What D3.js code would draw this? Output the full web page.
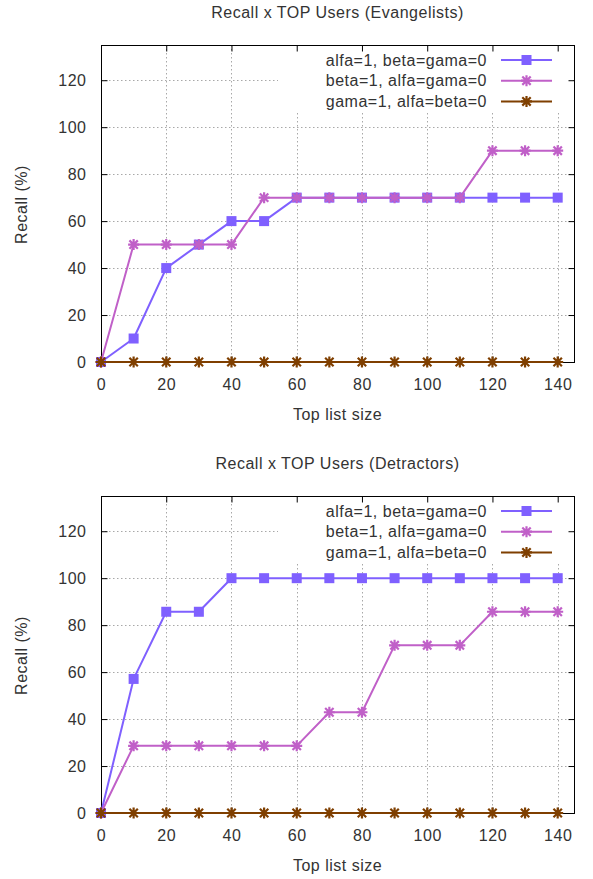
<!DOCTYPE html>
<html>
<head>
<meta charset="utf-8">
<script src="https://cdn.jsdelivr.net/npm/d3@7/dist/d3.min.js"></script>
<style>
  html, body { margin: 0; padding: 0; background: #fff; }
  svg { display: block; }
  text { font-family: "Liberation Sans", Arial, sans-serif; font-size: 16px; fill: #333; letter-spacing: 0.5px; }
</style>
</head>
<body>
<script>
// ---- data ----
const topListSizes = [0, 10, 20, 30, 40, 50, 60, 70, 80, 90, 100, 110, 120, 130, 140];
const seriesNames = ["alfa=1, beta=gama=0", "beta=1, alfa=gama=0", "gama=1, alfa=beta=0"];
const seriesColors = ["#7f60ff", "#c060c8", "#7f3f00"];
const seriesMarkers = ["square", "star", "star"];

const evangelistsAlfa = [0, 10, 40, 50, 60, 60, 70, 70, 70, 70, 70, 70, 70, 70, 70];
const evangelistsBeta = [0, 50, 50, 50, 50, 70, 70, 70, 70, 70, 70, 70, 90, 90, 90];
const evangelistsGama = [0, 0, 0, 0, 0, 0, 0, 0, 0, 0, 0, 0, 0, 0, 0];

const detractorsAlfa = [0, 57.1, 85.7, 85.7, 100, 100, 100, 100, 100, 100, 100, 100, 100, 100, 100];
const detractorsBeta = [0, 28.6, 28.6, 28.6, 28.6, 28.6, 28.6, 42.9, 42.9, 71.4, 71.4, 71.4, 85.7, 85.7, 85.7];
const detractorsGama = [0, 0, 0, 0, 0, 0, 0, 0, 0, 0, 0, 0, 0, 0, 0];

const xTickValues = [0, 20, 40, 60, 80, 100, 120, 140];
const yTickValues = [0, 20, 40, 60, 80, 100, 120];
const xDomain = [0, 145];
const yDomain = [0, 135];

const panels = [
  { title: "Recall x TOP Users (Evangelists)", series: [evangelistsAlfa, evangelistsBeta, evangelistsGama], offset: 0 },
  { title: "Recall x TOP Users (Detractors)", series: [detractorsAlfa, detractorsBeta, detractorsGama], offset: 451 }
];
const xLabel = "Top list size";
const yLabel = "Recall (%)";

// ---- drawing ----
const W = 593, H = 879;
const svg = d3.select("body").append("svg").attr("width", W).attr("height", H);
svg.append("rect").attr("width", W).attr("height", H).attr("fill", "#fff");

const left = 101, right = 574, top0 = 45, bottom0 = 362;

function drawMarker(g, type, cx, cy, color) {
  if (type === "square") {
    g.append("rect").attr("x", cx - 5).attr("y", cy - 5).attr("width", 10).attr("height", 10)
      .attr("fill", color);
  } else {
    const r = 5.5, d = 4.2;
    const p = d3.path();
    p.moveTo(cx - r, cy); p.lineTo(cx + r, cy);
    p.moveTo(cx, cy - r); p.lineTo(cx, cy + r);
    p.moveTo(cx - d, cy - d); p.lineTo(cx + d, cy + d);
    p.moveTo(cx - d, cy + d); p.lineTo(cx + d, cy - d);
    g.append("path").attr("d", p.toString()).attr("stroke", color).attr("stroke-width", 2.2)
      .attr("fill", "none").attr("stroke-linecap", "butt");
  }
}

panels.forEach(panel => {
  const off = panel.offset;
  const top = top0 + off, bottom = bottom0 + off;
  const x = d3.scaleLinear().domain(xDomain).range([left, right]);
  const y = d3.scaleLinear().domain(yDomain).range([bottom, top]);
  const g = svg.append("g");

  // grid
  const grid = g.append("g").attr("stroke", "#a8a8a8").attr("stroke-width", 1).attr("stroke-dasharray", "1.5,2.5");
  xTickValues.filter(v => v !== 0).forEach(v => {
    grid.append("line").attr("x1", Math.round(x(v)) + 0.5).attr("x2", Math.round(x(v)) + 0.5)
      .attr("y1", top).attr("y2", bottom);
  });
  yTickValues.filter(v => v !== 0).forEach(v => {
    grid.append("line").attr("y1", Math.round(y(v)) + 0.5).attr("y2", Math.round(y(v)) + 0.5)
      .attr("x1", left).attr("x2", right);
  });

  // opaque key area
  g.append("rect").attr("x", 278).attr("y", top + 1).attr("width", right - 278 - 1).attr("height", 67).attr("fill", "#fff");

  // axes (inward ticks)
  const axB = g.append("g").attr("transform", `translate(0,${bottom + 0.5})`)
    .call(d3.axisBottom(x).tickValues(xTickValues).tickSize(-6).tickPadding(16).tickFormat(d3.format("d")));
  const axT = g.append("g").attr("transform", `translate(0,${top + 0.5})`)
    .call(d3.axisTop(x).tickValues(xTickValues).tickSize(-6).tickFormat(""));
  const axL = g.append("g").attr("transform", `translate(${left + 0.5},0)`)
    .call(d3.axisLeft(y).tickValues(yTickValues).tickSize(-6).tickPadding(15).tickFormat(d3.format("d")));
  const axR = g.append("g").attr("transform", `translate(${right + 0.5},0)`)
    .call(d3.axisRight(y).tickValues(yTickValues).tickSize(-6).tickFormat(""));
  [axB, axT, axL, axR].forEach(a => {
    a.select(".domain").remove();
    a.selectAll(".tick line").attr("stroke", "#000");
    a.selectAll("text").attr("font-family", null).attr("font-size", null).style("fill", "#333");
  });
  axT.selectAll(".tick").filter(d => d === 0 || d === 140 && false).remove();

  // border
  g.append("rect").attr("x", left + 0.5).attr("y", top + 0.5).attr("width", right - left).attr("height", bottom - top)
    .attr("fill", "none").attr("stroke", "#000").attr("stroke-width", 1);

  // series
  panel.series.forEach((vals, si) => {
    const pts = topListSizes.map((t, i) => [x(t), y(vals[i])]);
    g.append("path").attr("d", d3.line()(pts)).attr("fill", "none")
      .attr("stroke", seriesColors[si]).attr("stroke-width", 2).attr("stroke-linejoin", "round");
    const mg = g.append("g");
    pts.forEach(p => drawMarker(mg, seriesMarkers[si], p[0], p[1], seriesColors[si]));
  });

  // legend
  const rowY = [60, 80.7, 101.4];
  seriesNames.forEach((name, si) => {
    const ry = rowY[si] + off;
    g.append("text").attr("x", 487).attr("y", ry).attr("dy", "0.36em").attr("text-anchor", "end").text(name);
    g.append("line").attr("x1", 501).attr("x2", 552).attr("y1", ry).attr("y2", ry)
      .attr("stroke", seriesColors[si]).attr("stroke-width", 2);
    drawMarker(g, seriesMarkers[si], 526.5, ry, seriesColors[si]);
  });

  // title and labels
  g.append("text").attr("x", (left + right) / 2).attr("y", 18 + off).attr("text-anchor", "middle").text(panel.title);
  g.append("text").attr("x", (left + right) / 2).attr("y", 420 + off).attr("text-anchor", "middle").text(xLabel);
  g.append("text").attr("transform", `translate(27,${(top + bottom) / 2 + 1}) rotate(-90)`)
    .attr("text-anchor", "middle").text(yLabel);
});
</script>
</body>
</html>
